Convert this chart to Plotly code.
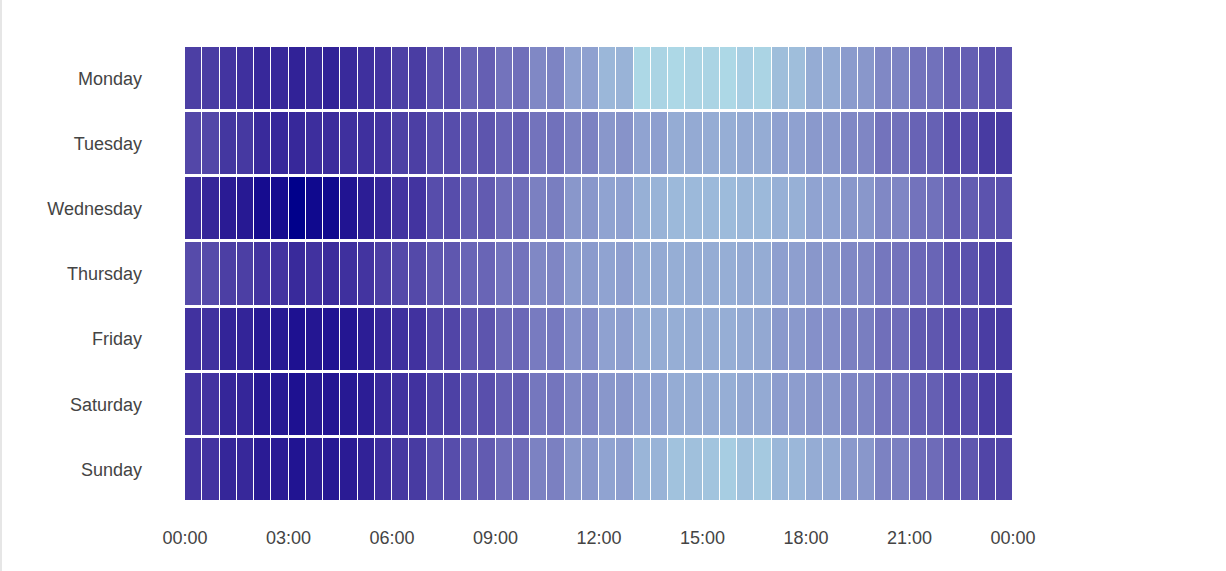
import plotly.graph_objects as go

days = ["Monday", "Tuesday", "Wednesday", "Thursday", "Friday", "Saturday", "Sunday"]
slots = list(range(48))  # half-hour slots
tick_slots = [0, 6, 12, 18, 24, 30, 36, 42, 48]
tick_labels = ["00:00", "03:00", "06:00", "09:00", "12:00", "15:00", "18:00", "21:00", "00:00"]

monday = [27, 26, 22, 20, 16, 16, 13, 17, 13, 17, 20, 22, 28, 26, 35, 35, 45, 43, 53, 51, 63, 61, 75, 75,
          85, 83, 100, 98, 100, 98, 98, 100, 96, 98, 88, 88, 80, 80, 72, 70, 63, 61, 53, 52, 44, 43, 37, 37]
tuesday = [31, 31, 23, 24, 17, 16, 16, 19, 18, 20, 20, 22, 28, 27, 34, 34, 39, 38, 45, 43, 53, 52, 60, 60,
           70, 68, 76, 74, 80, 79, 80, 81, 79, 80, 75, 75, 71, 71, 63, 62, 53, 52, 45, 44, 33, 32, 25, 25]
wednesday = [19, 15, 10, 9, 4, 4, 0, 3, 3, 7, 11, 15, 22, 22, 34, 34, 42, 41, 50, 50, 59, 58, 70, 70,
             76, 75, 82, 83, 86, 86, 86, 87, 85, 86, 82, 82, 76, 76, 70, 70, 63, 62, 53, 52, 43, 42, 37, 36]
thursday = [33, 33, 27, 27, 22, 22, 17, 21, 18, 20, 22, 27, 32, 32, 39, 39, 46, 46, 54, 53, 63, 62, 72, 72,
            76, 74, 80, 79, 81, 80, 80, 81, 79, 80, 74, 74, 70, 70, 63, 62, 55, 53, 47, 46, 37, 36, 30, 29]
friday = [21, 21, 14, 14, 9, 9, 6, 8, 7, 8, 11, 16, 20, 21, 30, 30, 39, 38, 48, 47, 57, 56, 67, 66,
          75, 74, 80, 80, 81, 80, 80, 81, 79, 78, 71, 71, 67, 66, 59, 58, 51, 50, 40, 39, 33, 32, 26, 25]
saturday = [22, 22, 15, 15, 9, 9, 6, 9, 8, 9, 11, 17, 21, 21, 28, 28, 36, 35, 43, 42, 55, 54, 63, 63,
            70, 70, 76, 76, 80, 80, 80, 81, 78, 79, 73, 73, 70, 70, 62, 61, 54, 53, 44, 43, 34, 33, 26, 25]
sunday = [22, 22, 15, 16, 10, 10, 7, 11, 9, 10, 13, 19, 24, 25, 34, 34, 41, 41, 50, 49, 60, 59, 70, 70,
          76, 74, 84, 83, 90, 89, 91, 95, 90, 93, 85, 85, 80, 79, 71, 70, 60, 59, 50, 49, 40, 39, 30, 30]

z = [monday, tuesday, wednesday, thursday, friday, saturday, sunday]


# colour ramp darkblue -> lightblue, interpolated in CIELAB
def to_lab(rgb):
    lin = []
    for c in rgb:
        c = c / 255
        lin.append(c / 12.92 if c <= 0.04045 else ((c + 0.055) / 1.055) ** 2.4)
    r, g, b = lin
    x = (0.4124 * r + 0.3576 * g + 0.1805 * b) / 0.95047
    y = 0.2126 * r + 0.7152 * g + 0.0722 * b
    zz = (0.0193 * r + 0.1192 * g + 0.9505 * b) / 1.08883
    f = lambda t: t ** (1 / 3) if t > 0.008856 else 7.787 * t + 16 / 116
    fx, fy, fz = f(x), f(y), f(zz)
    return 116 * fy - 16, 500 * (fx - fy), 200 * (fy - fz)


def from_lab(lab):
    L, a, b = lab
    fy = (L + 16) / 116
    fx = fy + a / 500
    fz = fy - b / 200
    g = lambda t: t ** 3 if t ** 3 > 0.008856 else (t - 16 / 116) / 7.787
    x, y, zz = 0.95047 * g(fx), g(fy), 1.08883 * g(fz)
    r = 3.2406 * x - 1.5372 * y - 0.4986 * zz
    gg = -0.9689 * x + 1.8758 * y + 0.0415 * zz
    bb = 0.0557 * x - 0.2040 * y + 1.0570 * zz
    out = []
    for c in (r, gg, bb):
        c = max(0, min(1, c))
        c = 12.92 * c if c <= 0.0031308 else 1.055 * c ** (1 / 2.4) - 0.055
        out.append(round(c * 255))
    return "rgb(%d,%d,%d)" % tuple(out)


lab0 = to_lab((0, 0, 139))
lab1 = to_lab((173, 216, 230))
colorscale = []
for i in range(21):
    t = i / 20
    colorscale.append([t, from_lab([a + (b - a) * t for a, b in zip(lab0, lab1)])])

fig = go.Figure()
fig.add_trace(
    go.Heatmap(
        z=z,
        x=[s + 0.5 for s in slots],
        y=days,
        colorscale=colorscale,
        zmin=0,
        zmax=100,
        xgap=1,
        ygap=3,
        showscale=False,
    )
)

fig.update_layout(
    width=1226,
    height=571,
    margin=dict(l=185, r=213, t=46, b=69),
    paper_bgcolor="white",
    plot_bgcolor="white",
    font=dict(family="Liberation Sans, Arial, sans-serif", size=18, color="#444"),
    shapes=[
        dict(type="line", xref="paper", yref="paper",
             x0=-184 / 828, x1=-184 / 828, y0=-69 / 456, y1=1 + 46 / 456,
             line=dict(color="#e6e6e6", width=2))
    ],
)
fig.update_xaxes(
    range=[0, 48],
    tickvals=tick_slots,
    ticktext=tick_labels,
    showgrid=False,
    zeroline=False,
    showline=False,
    ticks="",
    ticklabelstandoff=23,
)
fig.update_yaxes(
    autorange="reversed",
    showgrid=False,
    zeroline=False,
    showline=False,
    ticks="",
    ticklabelstandoff=42,
)

# drop the page margin so the figure sits at the window corner
fig.write_html(
    "out.html",
    config={"displayModeBar": False},
    post_script="document.body.style.margin='0';document.body.style.overflow='hidden';",
)
